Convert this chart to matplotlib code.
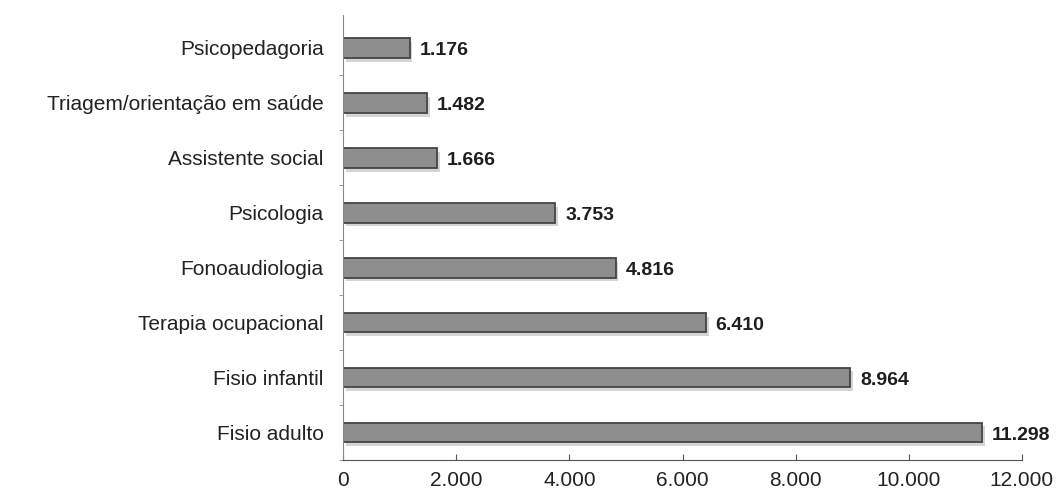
import matplotlib.pyplot as plt
import numpy as np

plt.rcParams['font.family'] = ['Liberation Sans', 'DejaVu Sans']

categorias = ['Fisio adulto', 'Fisio infantil', 'Terapia ocupacional', 'Fonoaudiologia',
              'Psicologia', 'Assistente social', 'Triagem/orientação em saúde', 'Psicopedagoria']
valores = [11298, 8964, 6410, 4816, 3753, 1666, 1482, 1176]
rotulos = ['11.298', '8.964', '6.410', '4.816', '3.753', '1.666', '1.482', '1.176']
xticks = [0, 2000, 4000, 6000, 8000, 10000, 12000]
xtick_labels = ['0', '2.000', '4.000', '6.000', '8.000', '10.000', '12.000']

fig = plt.figure(figsize=(10.59, 5.01), dpi=100)
ax = fig.add_axes([0.324, 0.082, 0.641, 0.888])

y = np.arange(len(categorias))
# light shadow under each bar
ax.barh(y - 0.07, valores, height=0.36, left=50, color='#d4d4d4', edgecolor='none', zorder=1)
ax.barh(y, valores, height=0.36, color='#8e8e8e', edgecolor='#444444', linewidth=1.3, zorder=2)

for yi, v, r in zip(y, valores, rotulos):
    ax.annotate(r, (v, yi), xytext=(7, -2), textcoords='offset points',
                va='center', ha='left', fontsize=14, fontweight='bold', color='#1e1e1e')

ax.set_xlim(0, 12000)
ax.set_ylim(-0.4, len(categorias) - 0.4)
ax.set_xticks(xticks)
ax.set_xticklabels(xtick_labels, fontsize=15, color='#222222')
ax.set_yticks(y)
ax.set_yticklabels(categorias, fontsize=15, color='#222222')
ax.set_yticks(np.arange(len(categorias)) - 0.5, minor=True)

ax.tick_params(axis='y', which='major', length=0, pad=14)
ax.tick_params(axis='y', which='minor', length=3, color='#888888')
ax.tick_params(axis='x', direction='in', length=4, color='#555555', pad=8)

for s in ['top', 'right']:
    ax.spines[s].set_visible(False)
ax.spines['left'].set_color('#888888')
ax.spines['bottom'].set_color('#555555')

fig.savefig('out.png', dpi=100)
